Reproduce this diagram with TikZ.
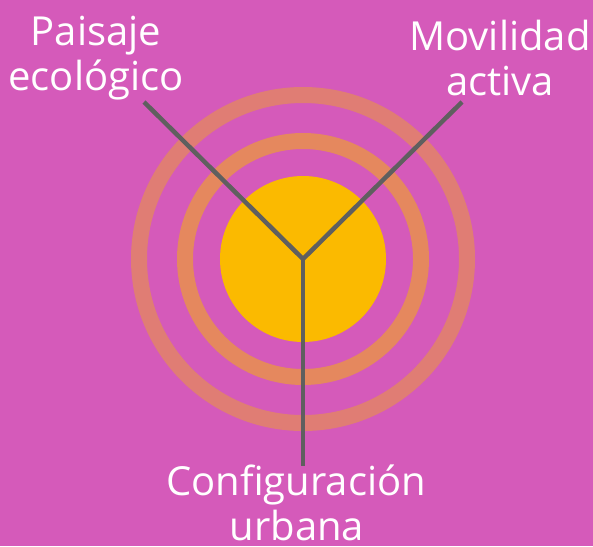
\documentclass[tikz,border=0pt]{standalone}
\usepackage{fontspec}
\setmainfont{Open Sans}
\definecolor{bgc}{RGB}{213,90,186}
\definecolor{sunc}{RGB}{251,186,0}
\definecolor{ringin}{RGB}{229,136,94}
\definecolor{ringout}{RGB}{224,125,116}
\definecolor{linec}{RGB}{95,95,95}
\tikzset{
  lbl/.style={text=white, font=\fontsize{40}{46}\selectfont, inner sep=0pt, anchor=base},
  ring/.style={line width=16pt},
  spoke/.style={draw=linec, line width=4.5pt}
}
\begin{document}
\begin{tikzpicture}[x=1pt,y=-1pt]
\fill[bgc] (0,0) rectangle (593,546);
\useasboundingbox (0,0) rectangle (593,546);
\coordinate (c) at (303,259);
\draw[ring, draw=ringout] (c) circle[radius=164];
\draw[ring, draw=ringin] (c) circle[radius=118];
\fill[sunc] (c) circle[radius=83];
\coordinate (tl) at (144,102);
\coordinate (tr) at (462,102);
\coordinate (bt) at (303,466);
\draw[spoke] (tl) -- (c) -- (tr);
\draw[spoke] (c) -- (bt);
\node[lbl] (p1) at (96,45) {Paisaje};
\node[lbl] (p2) at (96,90) {ecológico};
\node[lbl] (m1) at (500,50) {Movilidad};
\node[lbl] (m2) at (500,95) {activa};
\node[lbl] (c1) at (296,495) {Configuración};
\node[lbl] (c2) at (297,540) {urbana};
\end{tikzpicture}
\end{document}
